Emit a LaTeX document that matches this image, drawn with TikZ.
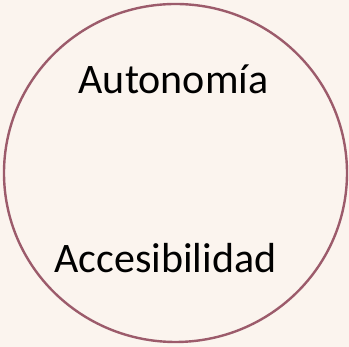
\documentclass[tikz,border=0pt]{standalone}
\usepackage{fontspec}
\setmainfont{Carlito}
\usepackage{tikz}
\usetikzlibrary{shapes.geometric}
\definecolor{fondo}{HTML}{FBF4EE}
\definecolor{borde}{HTML}{9C5B6B}

\begin{document}
\begin{tikzpicture}[x=1pt,y=1pt]
	\fill [fondo] (0,0) rectangle (349,347);
	\useasboundingbox (0,0) rectangle (349,347);
	\node [ellipse, draw=borde, line width=2.4pt, minimum width=343pt,
		minimum height=338pt, inner sep=0pt] (circulo) at (175.5,174) {};
	\begin{scope}[every node/.style = {anchor=base, inner sep=0pt,
			font=\fontsize{42}{50}\selectfont}]
		\node (autonomia) at (173.5,253) {Autonomía};
		\node (accesibilidad) at (165.5,74) {Accesibilidad};
	\end{scope}
\end{tikzpicture}
\end{document}
